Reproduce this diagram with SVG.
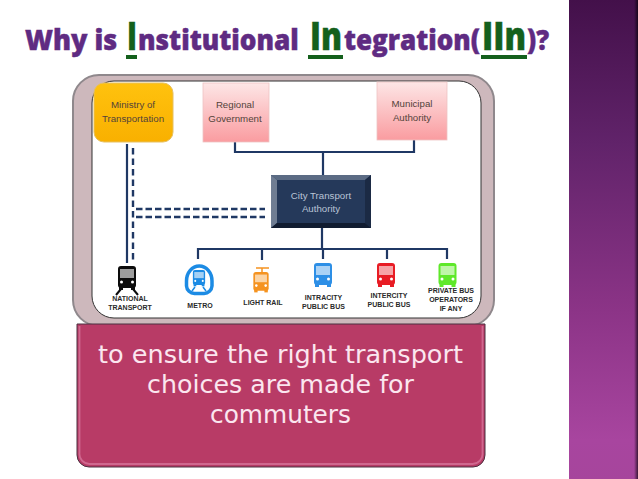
<svg xmlns="http://www.w3.org/2000/svg" width="638" height="479" viewBox="0 0 638 479">
<style>
.t{font-family:"Open Sans","DejaVu Sans",sans-serif;font-weight:800;font-size:29px;fill:#5f2b82;stroke:#5f2b82;stroke-width:.5}
.g{fill:#14601c;stroke:#14601c;font-size:38px}
.u{fill:#14601c}
.n{font-family:"Liberation Sans",Arial,sans-serif;font-size:9.7px;fill:#53433a;text-anchor:middle}
.w{fill:#b9c4d6}
.l{font-family:"Liberation Sans",Arial,sans-serif;font-size:7px;font-weight:700;fill:#2a2a2a;text-anchor:middle}
.p{font-family:"DejaVu Sans",sans-serif;font-size:25px;fill:#fbe6ef;text-anchor:middle}
.c{fill:none;stroke:#1f3864;stroke-width:2.200}
.d{fill:none;stroke:#1f3864;stroke-width:2.400;stroke-dasharray:6.500 3}
.v{fill:none;stroke:#1f3864;stroke-width:2.400;stroke-dasharray:6.500 4}
</style>
<defs>
<linearGradient id="side" x1="0" y1="0" x2="0" y2="1"><stop offset="0" stop-color="#43104a"/><stop offset=".3" stop-color="#61236a"/><stop offset=".65" stop-color="#8c3487"/><stop offset=".92" stop-color="#a8459f"/><stop offset="1" stop-color="#a6459c"/></linearGradient>
<linearGradient id="edge" x1="0" y1="0" x2="1" y2="0"><stop offset="0" stop-color="#000" stop-opacity="0"/><stop offset="1" stop-color="#000" stop-opacity=".65"/></linearGradient>
<linearGradient id="pk" x1="0" y1="0" x2="0" y2="1"><stop offset="0" stop-color="#fde6e6"/><stop offset="1" stop-color="#fa9ca0"/></linearGradient>
<linearGradient id="go" x1="0" y1="0" x2="0" y2="1"><stop offset="0" stop-color="#ffc20e"/><stop offset="1" stop-color="#f9b000"/></linearGradient>
<g id="bus"><path d="M-9 3a3 3 0 0 1 3-3h12a3 3 0 0 1 3 3v16a3 3 0 0 1-3 3h-12a3 3 0 0 1-3-3z"/><rect x="-8" y="21" width="4" height="3"/><rect x="4" y="21" width="4" height="3"/><path d="M-7 3h14v9h-14z" fill="#fff" opacity=".6"/><circle cx="-5.500" cy="16" r="1.500" fill="#fff"/><circle cx="5.500" cy="16" r="1.500" fill="#fff"/></g>
</defs>
<rect width="638" height="479" fill="#fff"/>
<rect x="569" width="69" height="479" fill="url(#side)"/>
<rect x="634" width="4" height="479" fill="url(#edge)"/>
<g id="title">
<text class="t" transform="translate(25 50) scale(.96 1)" textLength="96" lengthAdjust="spacingAndGlyphs">Why is</text>
<text class="t g" transform="translate(127 50) scale(.8 1)" textLength="12.500" lengthAdjust="spacingAndGlyphs">I</text>
<text class="t" transform="translate(138 50) scale(.86 1)" textLength="187" lengthAdjust="spacingAndGlyphs">nstitutional</text>
<text class="t g" transform="translate(310 50) scale(.82 1)" textLength="39" lengthAdjust="spacingAndGlyphs">In</text>
<text class="t" transform="translate(344 50) scale(.925 1)" textLength="147" lengthAdjust="spacingAndGlyphs">tegration(</text>
<text class="t g" transform="translate(482 50) scale(.82 1)" textLength="53.700" lengthAdjust="spacingAndGlyphs">IIn</text>
<text class="t" transform="translate(527 50) scale(.88 1)" textLength="25" lengthAdjust="spacingAndGlyphs">)?</text>
<rect class="u" x="126" y="55" width="11" height="4"/>
<rect class="u" x="308" y="55" width="35" height="4"/>
<rect class="u" x="481" y="55" width="46" height="4"/>
</g>
<g id="panel">
<rect x="73" y="75" width="421" height="251" rx="26" fill="#cdb8bc" stroke="#8f888c" stroke-width="2"/>
<rect x="92" y="81" width="389" height="237" rx="22" fill="#fff" stroke="#333" stroke-width="1"/>
</g>
<g id="connectors">
<path class="c" d="M235 142V152H414V140M323 152V175M322 228V249M198 259V249H447V259M262 249V260M323 249V259M387 249V259M127 144V263"/>
<path class="v" d="M133 148V263"/>
<path class="d" d="M136 209H265M136 217H265"/>
</g>
<g id="ministry"><rect x="94" y="83" width="79" height="59" rx="10" fill="url(#go)" stroke="#e6c060"/><text class="n" x="133" y="108">Ministry of</text><text class="n" x="133" y="122">Transportation</text></g>
<g id="regional"><rect x="203" y="83" width="66" height="59" fill="url(#pk)" stroke="#eec4c4" stroke-width=".8"/><text class="n" x="235" y="108">Regional</text><text class="n" x="235" y="122">Government</text></g>
<g id="municipal"><rect x="377" y="82" width="70" height="58" fill="url(#pk)" stroke="#eec4c4" stroke-width=".8"/><text class="n" x="412" y="107">Municipal</text><text class="n" x="412" y="121">Authority</text></g>
<g id="cta"><rect x="271" y="175" width="100" height="53" fill="#25395a"/><path d="M271 175h100l-6 5h-88z" fill="#5b6b84"/><path d="M271 175l6 5v43l-6 5z" fill="#6f7d93"/><path d="M371 175l-6 5v43l6 5z" fill="#1b2a44"/><path d="M271 228l6-5h88l6 5z" fill="#111c30"/><text class="n w" x="321" y="199">City Transport</text><text class="n w" x="321" y="212">Authority</text></g>
<g id="national"><use href="#bus" transform="translate(127 266)" fill="#0c0c0c"/><path d="M121 289l-5 6M133 289l5 6" stroke="#0c0c0c" stroke-width="2"/><text class="l" x="130" y="301">NATIONAL</text><text class="l" x="130" y="310">TRANSPORT</text></g>
<g id="metro"><path d="M186.500 281a12.750 15 0 0 1 25.500 0v5a8 8 0 0 1-8 7.500h-9.500a8 8 0 0 1-8-7.500z" fill="#fff" stroke="#1c8be4" stroke-width="3.500"/><use href="#bus" transform="translate(199 270) scale(.68)" fill="#1c8be4"/><path d="M195 287l-3 4M203 287l3 4" stroke="#1c8be4" stroke-width="1.500"/><text class="l" x="200" y="308">METRO</text></g>
<g id="light"><path d="M256 268h13M262 268v4" stroke="#f59320" stroke-width="1.500"/><use href="#bus" transform="translate(261 272) scale(.85)" fill="#f59320"/><text class="l" x="263" y="305">LIGHT RAIL</text></g>
<g id="intracity"><use href="#bus" transform="translate(323 263)" fill="#2d8fe6"/><text class="l" x="323.500" y="300">INTRACITY</text><text class="l" x="323.500" y="309">PUBLIC BUS</text></g>
<g id="intercity"><use href="#bus" transform="translate(386 263)" fill="#e81c24"/><text class="l" x="389" y="298">INTERCITY</text><text class="l" x="389" y="307">PUBLIC BUS</text></g>
<g id="private"><use href="#bus" transform="translate(447.500 263)" fill="#5fe82a"/><text class="l" x="451" y="293">PRIVATE BUS</text><text class="l" x="451" y="302">OPERATORS</text><text class="l" x="451" y="311">IF ANY</text></g>
<g id="callout"><path d="M77 324H485V455a12 12 0 0 1-12 12H89a12 12 0 0 1-12-12z" fill="#b83b66" stroke="#4a3040"/><path d="M79.500 326V453a10 10 0 0 0 10 11H472.500a10 10 0 0 0 10-11V326" fill="none" stroke="#d0688f" stroke-width="1.800"/>
<text class="p" x="280.500" y="363" textLength="365" lengthAdjust="spacingAndGlyphs">to ensure the right transport</text><text class="p" x="280.500" y="393" textLength="267" lengthAdjust="spacingAndGlyphs">choices are made for</text><text class="p" x="280.500" y="423" textLength="141" lengthAdjust="spacingAndGlyphs">commuters</text></g>
</svg>
